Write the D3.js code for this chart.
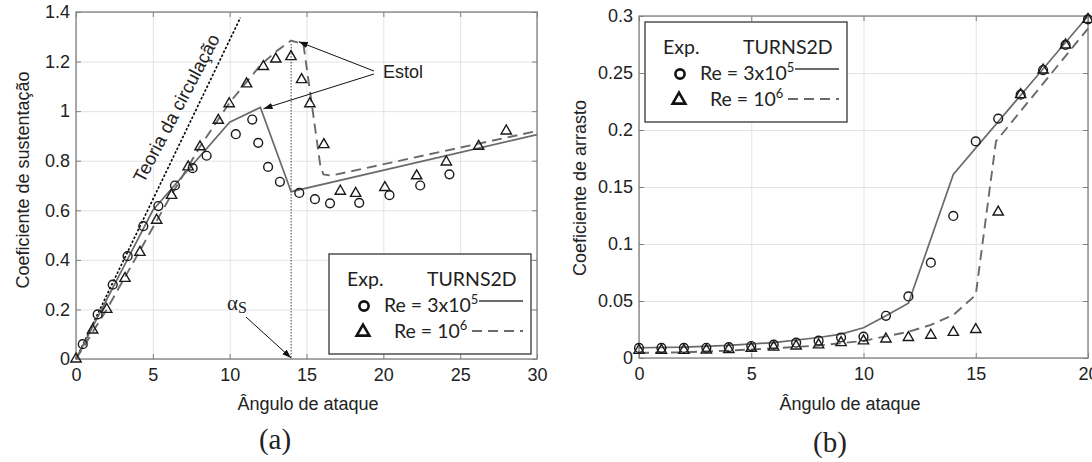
<!DOCTYPE html>
<html>
<head>
<meta charset="utf-8">
<script src="https://cdn.jsdelivr.net/npm/d3@7"></script>
<style>
  body { margin: 0; background: #fff; }
  svg text { font-family: "Liberation Sans", Arial, sans-serif; fill: #222; }
</style>
</head>
<body>
<svg id="fig" width="1092" height="462"></svg>
<script>
// ---------- (a) lift coefficient ----------
let liftTicksX = [0, 5, 10, 15, 20, 25, 30];
let liftTicksY = [0, 0.2, 0.4, 0.6, 0.8, 1, 1.2, 1.4];

// experiment, Re = 3x10^5 (circles)
let liftCircAlpha = [0.44, 1.41, 2.39, 3.36, 4.38, 5.36, 6.44, 7.59, 8.5, 10.4, 11.47, 11.86, 12.5, 13.27, 14.53, 15.55, 16.53, 18.43, 20.4, 22.4, 24.3];
let liftCircCl    = [0.06, 0.18, 0.30, 0.415, 0.536, 0.617, 0.70, 0.77, 0.82, 0.907, 0.966, 0.872, 0.775, 0.715, 0.67, 0.645, 0.628, 0.63, 0.661, 0.70, 0.745];
// experiment, Re = 10^6 (triangles)
let liftTriAlpha = [0, 1.08, 2.0, 3.19, 4.16, 5.25, 6.22, 7.3, 8.07, 9.26, 9.97, 11.1, 12.19, 13.0, 13.99, 14.68, 15.22, 16.13, 17.2, 18.2, 20.1, 22.17, 24.1, 26.2, 28.0];
let liftTriCl    = [0, 0.117, 0.2, 0.325, 0.43, 0.56, 0.66, 0.775, 0.856, 0.963, 1.03, 1.11, 1.18, 1.21, 1.22, 1.127, 1.03, 0.865, 0.677, 0.668, 0.692, 0.739, 0.795, 0.858, 0.92];
// TURNS2D
let liftSolidAlpha = [0, 5, 10, 12, 14, 30];
let liftSolidCl    = [0, 0.6, 0.955, 1.015, 0.675, 0.905];
let liftDashAlpha  = [0, 2, 4, 6, 8, 10, 12, 13, 14, 14.8, 15.9, 16.1, 16.6, 30];
let liftDashCl     = [0, 0.2, 0.42, 0.64, 0.85, 1.035, 1.185, 1.24, 1.285, 1.27, 0.78, 0.745, 0.74, 0.92];
// thin airfoil theory
let theoryAlpha = [0, 10.7];
let theoryCl    = [0, 1.377];
let stallAlpha = 14, stallTop = 1.27;

// ---------- (b) drag coefficient ----------
let dragTicksX = [0, 5, 10, 15, 20];
let dragTicksY = [0, 0.05, 0.1, 0.15, 0.2, 0.25, 0.3];
let dragAlpha = [0, 1, 2, 3, 4, 5, 6, 7, 8, 9, 10, 11, 12, 13, 14, 15, 16, 17, 18, 19, 20];
let dragCirc  = [0.0088, 0.0088, 0.0088, 0.009, 0.0095, 0.0105, 0.0117, 0.0134, 0.0152, 0.018, 0.0187, 0.037, 0.054, 0.0836, 0.1246, 0.19, 0.21, 0.231, 0.2526, 0.2746, 0.297];
let dragTri   = [0.0068, 0.0068, 0.0068, 0.007, 0.0075, 0.0085, 0.0095, 0.0105, 0.0115, 0.0135, 0.015, 0.0167, 0.018, 0.020, 0.0225, 0.025, 0.128, 0.231, 0.2526, 0.2746, 0.297];
let dragSolidAlpha = [0, 2, 4, 6, 8, 9, 10, 11, 12, 14, 20];
let dragSolidCd    = [0.009, 0.0095, 0.011, 0.0135, 0.018, 0.021, 0.0265, 0.037, 0.048, 0.161, 0.30];
let dragDashAlpha  = [0, 2, 4, 6, 8, 10, 12, 13, 14, 15, 15.9, 20];
let dragDashCd     = [0.0045, 0.005, 0.0065, 0.0085, 0.011, 0.015, 0.023, 0.029, 0.0377, 0.0553, 0.19, 0.289];

let svg = d3.select('#fig');
let fmt = d => String(+d.toFixed(2));
let lineGray = '#6a6a6a';

// arrow head
svg.append('defs').append('marker')
    .attr('id', 'arr')
    .attr('viewBox', '0 0 10 10')
    .attr('refX', 10).attr('refY', 5)
    .attr('markerWidth', 9).attr('markerHeight', 9)
    .attr('markerUnits', 'userSpaceOnUse')
    .attr('orient', 'auto')
    .append('path')
    .attr('d', 'M0,1.5 L10,5 L0,8.5 Z')
    .attr('fill', '#111');

function zip(a, b) { return a.map((v, i) => [v, b[i]]); }

function drawPanel(p) {
    let g = svg.append('g');
    let x = p.x, y = p.y;
    let [x0, x1] = x.range(), [y0, y1] = y.range();

    // grid
    g.append('g').attr('transform', `translate(0,${y0})`)
        .call(d3.axisBottom(x).tickValues(p.ticksX).tickSize(-(y0 - y1)).tickFormat(''))
        .call(a => a.select('.domain').remove())
        .call(a => a.selectAll('line').attr('stroke', '#e3e3e3'));
    g.append('g').attr('transform', `translate(${x0},0)`)
        .call(d3.axisLeft(y).tickValues(p.ticksY).tickSize(-(x1 - x0)).tickFormat(''))
        .call(a => a.select('.domain').remove())
        .call(a => a.selectAll('line').attr('stroke', '#e3e3e3'));

    // inward ticks on all four sides
    let axes = [
        [d3.axisBottom(x).tickValues(p.ticksX).tickFormat(fmt).tickPadding(9), `translate(0,${y0})`],
        [d3.axisLeft(y).tickValues(p.ticksY).tickFormat(fmt).tickPadding(6), `translate(${x0},0)`],
        [d3.axisTop(x).tickValues(p.ticksX).tickFormat(''), `translate(0,${y1})`],
        [d3.axisRight(y).tickValues(p.ticksY).tickFormat(''), `translate(${x1},0)`]
    ];
    axes.forEach(([ax, tr]) => {
        g.append('g').attr('transform', tr)
            .call(ax.tickSizeInner(-5).tickSizeOuter(0))
            .call(a => a.select('.domain').remove())
            .call(a => a.selectAll('line').attr('stroke', '#808080').attr('stroke-width', 1))
            .call(a => a.selectAll('text')
                .style('font-size', '18px')
                .style('font-family', '"Liberation Sans", Arial, sans-serif')
                .attr('fill', '#333'));
    });

    g.append('rect')
        .attr('x', x0).attr('y', y1)
        .attr('width', x1 - x0).attr('height', y0 - y1)
        .attr('fill', 'none').attr('stroke', '#808080').attr('stroke-width', 1.3);

    // axis titles
    g.append('text')
        .attr('x', p.xTitle[0]).attr('y', p.xTitle[1])
        .attr('text-anchor', 'middle')
        .style('font-size', '18px')
        .text('Ângulo de ataque');
    g.append('text')
        .attr('transform', `translate(${p.yTitle[0]},${p.yTitle[1]}) rotate(-90)`)
        .attr('text-anchor', 'middle')
        .attr('dominant-baseline', 'central')
        .style('font-size', '18px')
        .text(p.yLabel);

    // panel caption
    g.append('text')
        .attr('x', p.caption[0]).attr('y', p.caption[1])
        .attr('text-anchor', 'middle')
        .style('font-family', '"Liberation Serif", "Times New Roman", serif')
        .style('font-size', '29px')
        .text(p.captionText);

    return g;
}

function drawSeries(g, x, y, s) {
    let line = d3.line().x(d => x(d[0])).y(d => y(d[1]));
    g.append('path')
        .datum(zip(s.solidX, s.solidY))
        .attr('d', line)
        .attr('fill', 'none').attr('stroke', lineGray).attr('stroke-width', 1.7);
    g.append('path')
        .datum(zip(s.dashX, s.dashY))
        .attr('d', line)
        .attr('fill', 'none').attr('stroke', lineGray).attr('stroke-width', 1.9)
        .attr('stroke-dasharray', '10,6');

    let tri = d3.symbol(d3.symbolTriangle).size(46);
    g.selectAll(null)
        .data(zip(s.triX, s.triY))
        .enter().append('path')
        .attr('d', tri)
        .attr('transform', d => `translate(${x(d[0])},${y(d[1])})`)
        .attr('fill', 'none').attr('stroke', '#1a1a1a').attr('stroke-width', 1.4);
    g.selectAll(null)
        .data(zip(s.circX, s.circY))
        .enter().append('circle')
        .attr('cx', d => x(d[0])).attr('cy', d => y(d[1]))
        .attr('r', 4.4)
        .attr('fill', 'none').attr('stroke', '#1a1a1a').attr('stroke-width', 1.4);
}

function drawLegend(g, box) {
    let [lx, ly] = box;
    g.append('rect')
        .attr('x', lx).attr('y', ly).attr('width', 202).attr('height', 100)
        .attr('fill', '#fff').attr('stroke', '#444').attr('stroke-width', 1.4);
    let lf = '"Lato", "Open Sans", sans-serif';
    let t = (tx, ty, str) => g.append('text')
        .attr('x', lx + tx).attr('y', ly + ty)
        .style('font-family', lf).style('font-size', '19.5px')
        .attr('fill', '#333').text(str);
    t(18, 32, 'Exp.');
    t(98, 32, 'TURNS2D');
    let r1 = t(55, 58, 'Re = 3x10');
    r1.append('tspan').attr('dy', -8).style('font-size', '13px').text('5');
    let r2 = t(65, 84, 'Re = 10');
    r2.append('tspan').attr('dy', -8).style('font-size', '13px').text('6');

    g.append('circle')
        .attr('cx', lx + 35).attr('cy', ly + 52).attr('r', 4.6)
        .attr('fill', 'none').attr('stroke', '#111').attr('stroke-width', 2.6);
    g.append('path')
        .attr('d', d3.symbol(d3.symbolTriangle).size(70))
        .attr('transform', `translate(${lx + 34},${ly + 78})`)
        .attr('fill', 'none').attr('stroke', '#111').attr('stroke-width', 2.6);
    g.append('line')
        .attr('x1', lx + 150).attr('x2', lx + 194)
        .attr('y1', ly + 47).attr('y2', ly + 47)
        .attr('stroke', lineGray).attr('stroke-width', 1.8);
    g.append('line')
        .attr('x1', lx + 143).attr('x2', lx + 194)
        .attr('y1', ly + 77).attr('y2', ly + 77)
        .attr('stroke', lineGray).attr('stroke-width', 2)
        .attr('stroke-dasharray', '10,6');
}

//----------------------------------------
// (a)
let xa = d3.scaleLinear().domain([0, 30]).range([76, 537]);
let ya = d3.scaleLinear().domain([0, 1.4]).range([359, 12]);
let ga = drawPanel({
    x: xa, y: ya, ticksX: liftTicksX, ticksY: liftTicksY,
    xTitle: [308, 410], yTitle: [23, 180], yLabel: 'Coeficiente de sustentação',
    caption: [275, 449], captionText: '(a)'
});

// theory line
ga.append('path')
    .datum(zip(theoryAlpha, theoryCl))
    .attr('d', d3.line().x(d => xa(d[0])).y(d => ya(d[1])))
    .attr('stroke', '#000').attr('stroke-width', 1.6)
    .attr('stroke-dasharray', '2.5,1.8').attr('fill', 'none');
let thAng = Math.atan2(ya(theoryCl[1]) - ya(0), xa(theoryAlpha[1]) - xa(0)) * 180 / Math.PI;
ga.append('text')
    .attr('transform', `translate(${xa(6.9)},${ya(1.0)}) rotate(${thAng + 2})`)
    .attr('text-anchor', 'middle')
    .style('font-size', '18.5px')
    .text('Teoria da circulação');

// stall angle
ga.append('line')
    .attr('x1', xa(stallAlpha)).attr('x2', xa(stallAlpha))
    .attr('y1', ya(stallTop)).attr('y2', ya(0))
    .attr('stroke', '#111').attr('stroke-width', 1)
    .attr('stroke-dasharray', '1.2,1.8');

drawSeries(ga, xa, ya, {
    circX: liftCircAlpha, circY: liftCircCl,
    triX: liftTriAlpha, triY: liftTriCl,
    solidX: liftSolidAlpha, solidY: liftSolidCl,
    dashX: liftDashAlpha, dashY: liftDashCl
});

// annotations
ga.append('text').attr('x', 383).attr('y', 78).style('font-size', '18px').text('Estol');
ga.append('line')
    .attr('x1', 374).attr('y1', 71).attr('x2', xa(14.5)).attr('y2', ya(1.28))
    .attr('stroke', '#111').attr('stroke-width', 1).attr('marker-end', 'url(#arr)');
ga.append('line')
    .attr('x1', 374).attr('y1', 74).attr('x2', xa(12.2)).attr('y2', ya(1.01))
    .attr('stroke', '#111').attr('stroke-width', 1).attr('marker-end', 'url(#arr)');
let aS = ga.append('text').attr('x', 227).attr('y', 310)
    .style('font-family', '"Liberation Serif", "Times New Roman", serif')
    .style('font-size', '21px').text('α');
aS.append('tspan').attr('dy', 3).style('font-size', '16px').text('S');
ga.append('line')
    .attr('x1', 246).attr('y1', 317).attr('x2', xa(stallAlpha)).attr('y2', ya(0) - 1)
    .attr('stroke', '#111').attr('stroke-width', 1).attr('marker-end', 'url(#arr)');

drawLegend(ga, [329, 254]);

//----------------------------------------
// (b)
let xb = d3.scaleLinear().domain([0, 20]).range([639, 1088]);
let yb = d3.scaleLinear().domain([0, 0.3]).range([358, 16]);
let gb = drawPanel({
    x: xb, y: yb, ticksX: dragTicksX, ticksY: dragTicksY,
    xTitle: [850, 410], yTitle: [580, 188], yLabel: 'Coeficiente de arrasto',
    caption: [830, 452], captionText: '(b)'
});

drawSeries(gb, xb, yb, {
    circX: dragAlpha, circY: dragCirc,
    triX: dragAlpha, triY: dragTri,
    solidX: dragSolidAlpha, solidY: dragSolidCd,
    dashX: dragDashAlpha, dashY: dragDashCd
});

drawLegend(gb, [645, 22]);
</script>
</body>
</html>
